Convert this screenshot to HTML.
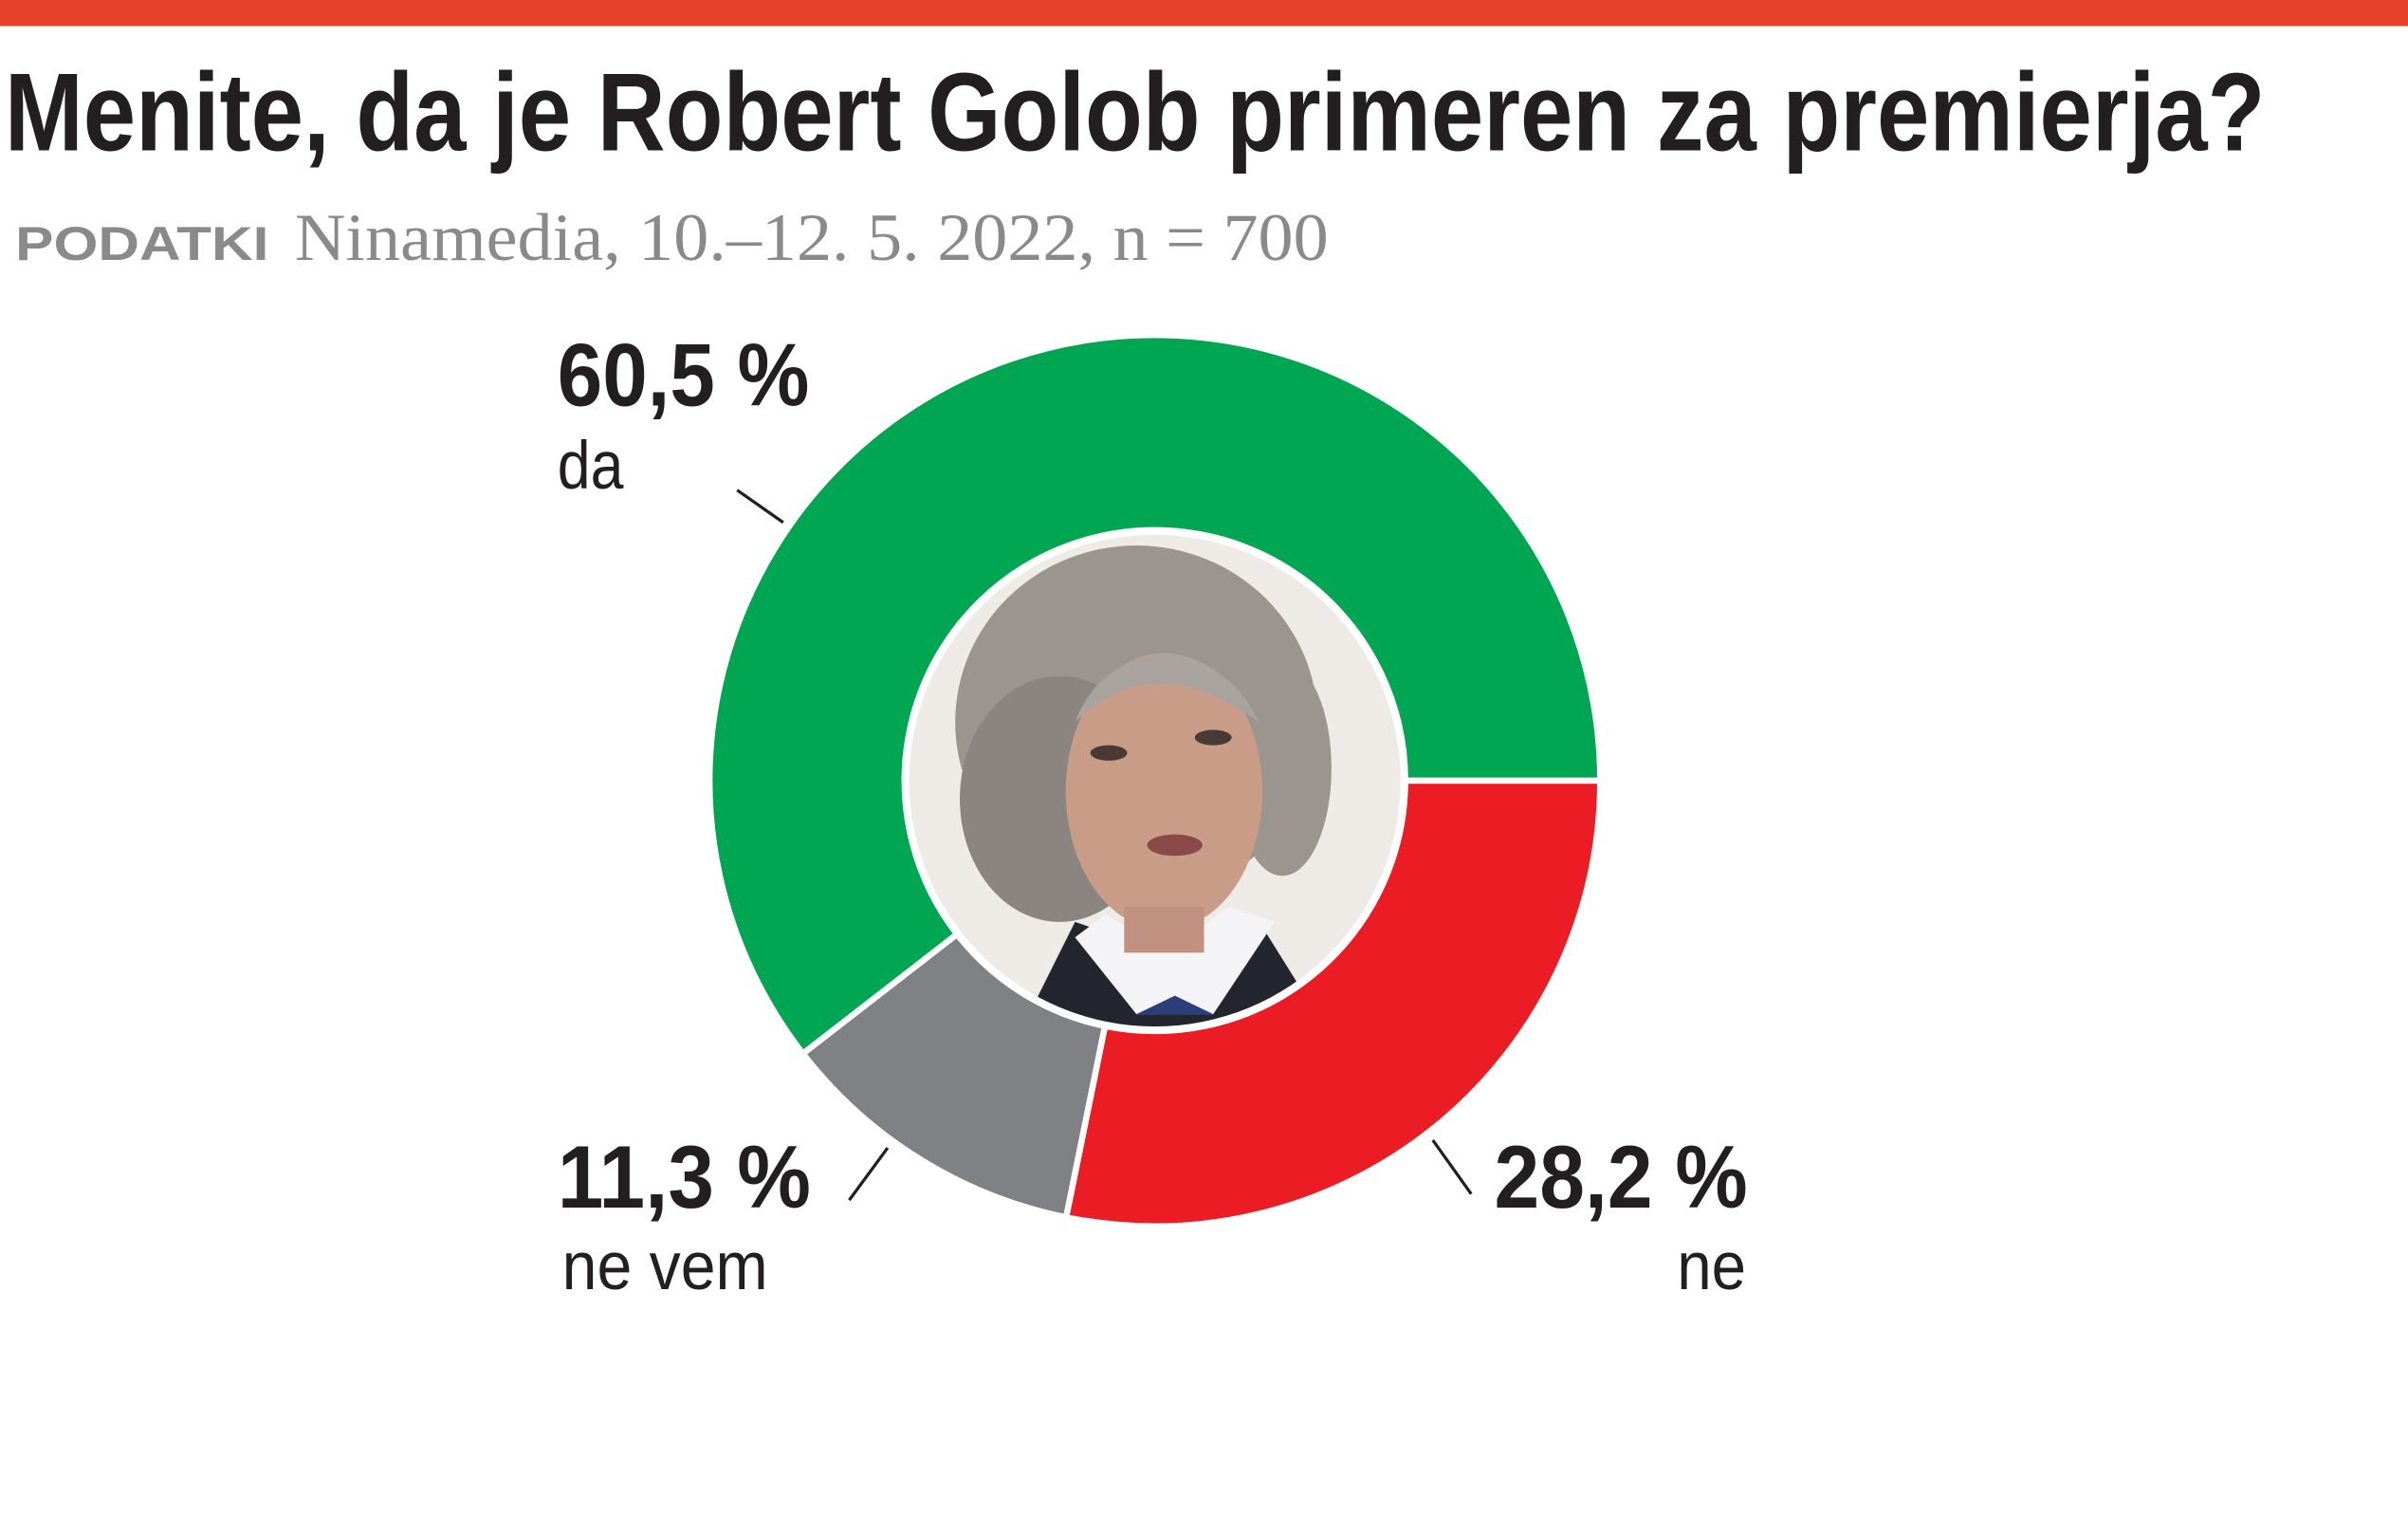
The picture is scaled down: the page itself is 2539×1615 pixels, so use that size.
<!DOCTYPE html>
<html><head><meta charset="utf-8"><style>
html,body{margin:0;padding:0;background:#fff;}
svg{display:block;}
</style></head><body>
<svg width="2539" height="1615" viewBox="0 0 1568 997" preserveAspectRatio="none" xmlns="http://www.w3.org/2000/svg">
<rect x="0" y="0" width="1568" height="17" fill="#e8432a"/>
<text x="3" y="98" font-family="Liberation Sans, sans-serif" font-weight="bold" font-size="72" fill="#231f20" textLength="1472" lengthAdjust="spacingAndGlyphs">Menite, da je Robert Golob primeren za premierja?</text>
<text x="10" y="169" font-family="Liberation Sans, sans-serif" font-weight="bold" font-size="31" fill="#8a8a8a" textLength="165" lengthAdjust="spacingAndGlyphs">PODATKI</text>
<text x="192" y="169" font-family="Liberation Serif, serif" font-size="44" fill="#8a8a8a" textLength="673" lengthAdjust="spacingAndGlyphs">Ninamedia, 10.–12. 5. 2022, n = 700</text>

<g stroke="#fff" stroke-width="4" stroke-linejoin="round">
<path d="M1042,508 A290,290 0 0 1 694.2,792.2 L719.5,667.7 A163,163 0 0 0 915,508 Z" fill="#ec1c24"/>
<path d="M694.2,792.2 A290,290 0 0 1 522.8,685.7 L623.2,607.9 A163,163 0 0 0 719.5,667.7 Z" fill="#808184"/>
<path d="M522.8,685.7 A290,290 0 1 1 1042,508 L915,508 A163,163 0 1 0 623.2,607.9 Z" fill="#00a651"/>
</g>
<defs><clipPath id="c"><circle cx="752" cy="508" r="160"/></clipPath></defs>
<circle cx="752" cy="508" r="163" fill="#fff"/>
<g clip-path="url(#c)">
<rect x="580" y="340" width="350" height="340" fill="#eeebe7"/>
<path d="M660,680 L700,600 L760,620 L820,600 L870,680 Z" fill="#23262e"/>
<path d="M700,610 L740,660 L790,660 L830,600 L800,590 L760,620 L720,595 Z" fill="#f4f4f6"/>
<path d="M740,660 L765,648 L790,660 Z" fill="#2b3f7a"/>
<ellipse cx="740" cy="470" rx="118" ry="115" fill="#9a958f"/>
<ellipse cx="690" cy="520" rx="65" ry="80" fill="#8a8580"/>
<ellipse cx="835" cy="500" rx="32" ry="70" fill="#9a958f"/>
<ellipse cx="758" cy="515" rx="64" ry="90" fill="#c99c88"/>
<rect x="732" y="590" width="52" height="30" fill="#c09080"/>
<path d="M700,470 Q750,420 820,470 Q800,430 760,425 Q715,430 700,470 Z" fill="#a8a39e"/>
<ellipse cx="722" cy="490" rx="12" ry="5" fill="#4a3a35"/>
<ellipse cx="790" cy="480" rx="12" ry="5" fill="#4a3a35"/>
<ellipse cx="765" cy="550" rx="18" ry="7" fill="#8a4a48"/>
</g>

<g font-family="Liberation Sans, sans-serif" fill="#231f20">
<text x="363" y="264" font-weight="bold" font-size="58" textLength="164" lengthAdjust="spacingAndGlyphs">60,5 %</text>
<text x="363" y="318" font-size="44" textLength="43" lengthAdjust="spacingAndGlyphs">da</text>
<text x="363" y="786" font-weight="bold" font-size="58" textLength="165" lengthAdjust="spacingAndGlyphs">11,3 %</text>
<text x="366" y="839" font-size="44" textLength="134" lengthAdjust="spacingAndGlyphs">ne vem</text>
<text x="973" y="786" font-weight="bold" font-size="58" textLength="165" lengthAdjust="spacingAndGlyphs">28,2 %</text>
<text x="1092" y="839" font-size="44" textLength="45" lengthAdjust="spacingAndGlyphs">ne</text>
</g>
<g stroke="#231f20" stroke-width="2">
<line x1="480" y1="319" x2="510" y2="340"/>
<line x1="553" y1="781" x2="578" y2="747"/>
<line x1="933" y1="742" x2="958" y2="777"/>
</g>
</svg>
</body></html>
